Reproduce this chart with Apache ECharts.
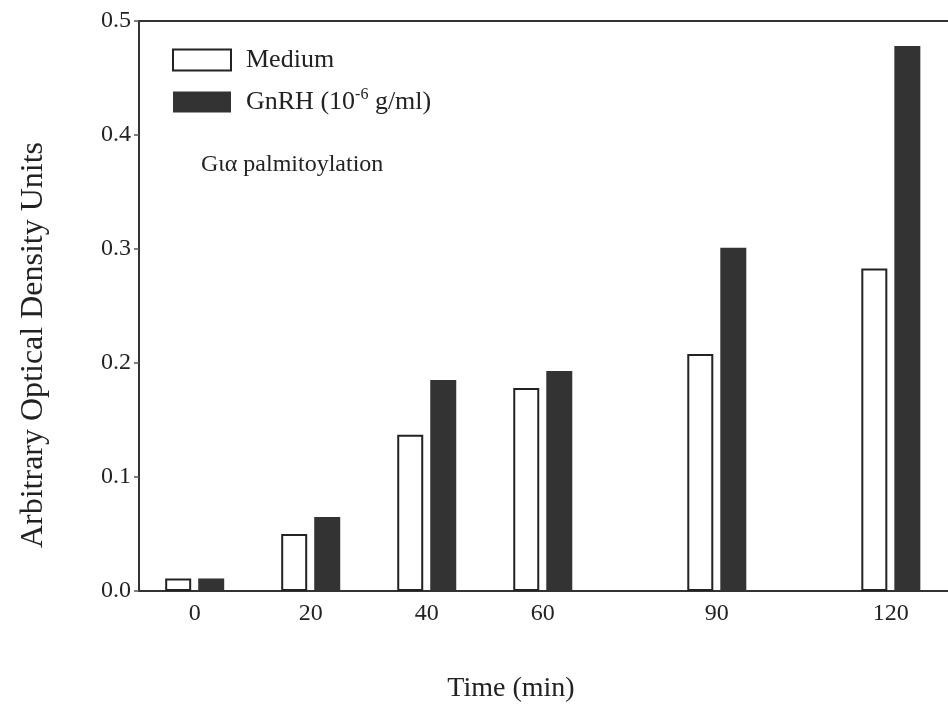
<!DOCTYPE html>
<html>
<head>
<meta charset="utf-8">
<script src="https://cdn.jsdelivr.net/npm/echarts@6/dist/echarts.min.js"></script>
<style>
html,body{margin:0;padding:0;background:#fff;}
#chart{width:948px;height:704px;}
</style>
</head>
<body>
<div id="chart"></div>
<script>
const times = [0, 20, 40, 60, 90, 120];
const mediumValues = [0.011, 0.050, 0.137, 0.178, 0.208, 0.283];
const gnrhValues = [0.011, 0.065, 0.185, 0.193, 0.301, 0.478];
const yTicks = [0, 0.1, 0.2, 0.3, 0.4, 0.5];
const xTitle = 'Time (min)';
const yTitle = 'Arbitrary Optical Density Units';
const panelLabel = 'Gια palmitoylation';

const FONT = 'Liberation Serif';
const ink = '#222';

const chart = echarts.init(document.getElementById('chart'), null, {renderer: 'canvas'});
chart.setOption({
  backgroundColor: '#fff',
  animation: false,
  grid: {
    left: 139, top: 21, width: 811, height: 570,
    show: true, borderColor: '#333', borderWidth: 2,
    outerBoundsMode: 'none', containLabel: false
  },
  legend: {
    orient: 'vertical', left: 172, top: 47, padding: 0,
    itemWidth: 58, itemHeight: 21, itemGap: 14,
    icon: 'rect',
    textStyle: {
      fontFamily: FONT, fontSize: 26, color: ink,
      rich: {
        f: {fontFamily: FONT, fontSize: 26, color: ink, padding: [0, 0, 0, 10]},
        n: {fontFamily: FONT, fontSize: 26, color: ink},
        s: {fontFamily: FONT, fontSize: 16, color: ink, verticalAlign: 'top', padding: [0, 0, 14, 0]}
      }
    },
    formatter: function (name) {
      if (name === 'GnRH') return '{f|GnRH (10}{s|-6}{n| g/ml)}';
      return '{f|' + name + '}';
    },
    data: ['Medium', 'GnRH']
  },
  xAxis: {
    type: 'value', min: -9.6, max: 130.2,
    axisLine: {show: true, onZero: false, lineStyle: {color: '#333', width: 2}},
    axisTick: {show: false},
    splitLine: {show: false},
    axisLabel: {
      customValues: times,
      fontFamily: FONT, fontSize: 24, color: ink, margin: 11
    }
  },
  yAxis: {
    type: 'value', min: yTicks[0], max: yTicks[yTicks.length - 1], interval: 0.1,
    axisLine: {show: true, onZero: false, lineStyle: {color: '#333', width: 2}},
    axisTick: {show: true, inside: false, length: 5, lineStyle: {color: '#555', width: 1.5}},
    splitLine: {show: false},
    axisLabel: {
      fontFamily: FONT, fontSize: 24, color: ink, margin: 8,
      formatter: function (v) { return v.toFixed(1); }
    }
  },
  series: [
    {
      name: 'Medium', type: 'bar',
      barWidth: 26, barGap: '27%',
      itemStyle: {color: '#fff', borderColor: '#222', borderWidth: 2},
      data: times.map((t, i) => [t, mediumValues[i]])
    },
    {
      name: 'GnRH', type: 'bar',
      barWidth: 26, barGap: '27%',
      itemStyle: {color: '#333', borderColor: '#333', borderWidth: 0},
      data: times.map((t, i) => [t, gnrhValues[i]])
    }
  ],
  graphic: [
    {
      type: 'text', left: 201, top: 153,
      style: {text: panelLabel, fontFamily: FONT, fontSize: 24, fill: ink}
    },
    {
      type: 'text', x: 34, y: 345, rotation: Math.PI / 2,
      style: {text: yTitle, fontFamily: FONT, fontSize: 32, fill: ink, align: 'center', verticalAlign: 'middle'}
    },
    {
      type: 'text', x: 511, y: 689,
      style: {text: xTitle, fontFamily: FONT, fontSize: 28, fill: ink, align: 'center', verticalAlign: 'middle'}
    }
  ]
});
</script>
</body>
</html>
